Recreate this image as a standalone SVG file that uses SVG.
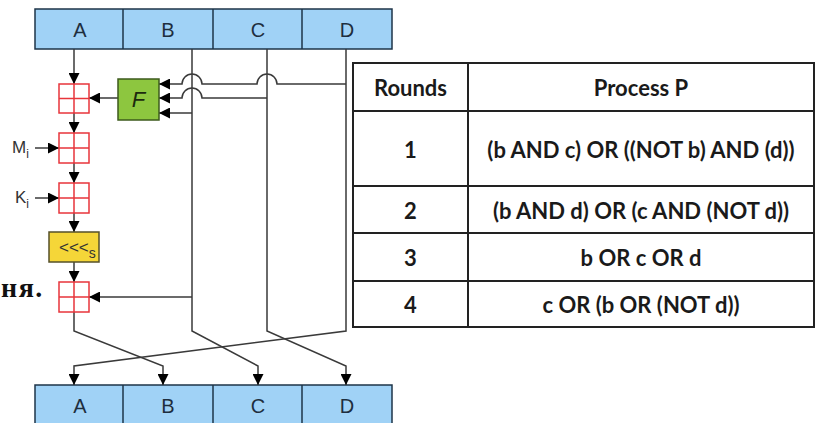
<svg xmlns="http://www.w3.org/2000/svg" width="821" height="423" viewBox="0 0 821 423">
<style>
.bar{fill:#a0d2f6;stroke:#1e3448;stroke-width:1.5}
.lbl{font-family:"Liberation Sans",Arial,sans-serif;font-size:20px;fill:#1e2e3e;text-anchor:middle}
.add{fill:#fff;stroke:#e8353b;stroke-width:1.5}
.ar{fill:none;stroke:#3a3a3a;stroke-width:1.5;marker-end:url(#ah)}
.tb{fill:none;stroke:#222;stroke-width:2}
.tt{font-family:Lato,"Open Sans",sans-serif;font-weight:bold;font-size:22px;fill:#1a1a1a;text-anchor:middle;dominant-baseline:central}
.sm{font-family:"Liberation Sans",Arial,sans-serif;fill:#333}
</style>
<defs>
<marker id="ah" viewBox="0 0 10 10" refX="10" refY="5" markerWidth="11" markerHeight="11" markerUnits="userSpaceOnUse" orient="auto">
<path d="M0,0 L10,5 L0,10 z" fill="#000"/>
</marker>
</defs>
<rect width="821" height="423" fill="#fff"/>

<g id="top-bar">
<rect class="bar" x="35" y="9" width="357" height="40"/>
<line class="bar" x1="123" y1="9" x2="123" y2="49"/>
<line class="bar" x1="213" y1="9" x2="213" y2="49"/>
<line class="bar" x1="302" y1="9" x2="302" y2="49"/>
<text class="lbl" x="80" y="37">A</text>
<text class="lbl" x="168" y="37">B</text>
<text class="lbl" x="258" y="37">C</text>
<text class="lbl" x="347" y="37">D</text>
</g>

<g id="bottom-bar">
<rect class="bar" x="35" y="385" width="357" height="50"/>
<line class="bar" x1="123" y1="385" x2="123" y2="423"/>
<line class="bar" x1="213" y1="385" x2="213" y2="423"/>
<line class="bar" x1="302" y1="385" x2="302" y2="423"/>
<text class="lbl" x="80" y="413">A</text>
<text class="lbl" x="168" y="413">B</text>
<text class="lbl" x="258" y="413">C</text>
<text class="lbl" x="347" y="413">D</text>
</g>

<g id="connectors">
<path class="ar" d="M74,49 V84"/>
<path class="ar" d="M118,98 H89"/>
<path class="ar" d="M74,113 V133"/>
<path class="ar" d="M35,148 H59"/>
<path class="ar" d="M74,163 V183"/>
<path class="ar" d="M35,198 H59"/>
<path class="ar" d="M74,213 V232"/>
<path class="ar" d="M74,262 V282"/>
<path class="ar" d="M346,84 H277 A10,10 0 0 0 257,84 H202 A10,10 0 0 0 182,84 H159"/>
<path class="ar" d="M267,98 H202 A10,10 0 0 0 182,98 H159"/>
<path class="ar" d="M192,113 H159"/>
<path class="ar" d="M192,297 H89"/>
<path class="ar" d="M192,49 V331 L258,366 V385"/>
<path class="ar" d="M267,49 V331 L346,366 V385"/>
<path class="ar" d="M346,49 V331 L74,366 V385"/>
<path class="ar" d="M74,312 V331 L163,366 V385"/>
</g>

<g id="add1">
<rect class="add" x="59" y="84" width="30" height="29"/>
<path class="add" d="M74,84 V113 M59,98.5 H89"/>
</g>
<g id="add2">
<rect class="add" x="59" y="133" width="30" height="30"/>
<path class="add" d="M74,133 V163 M59,148 H89"/>
</g>
<g id="add3">
<rect class="add" x="59" y="183" width="30" height="30"/>
<path class="add" d="M74,183 V213 M59,198 H89"/>
</g>
<g id="add4">
<rect class="add" x="59" y="282" width="30" height="30"/>
<path class="add" d="M74,282 V312 M59,297 H89"/>
</g>

<g id="F">
<rect x="118" y="79" width="41" height="41" fill="#8dc63f" stroke="#3d5a1c" stroke-width="1.5"/>
<text x="138.5" y="107" font-family="Liberation Sans,Arial,sans-serif" font-style="italic" font-size="22" fill="#1c2a0e" text-anchor="middle">F</text>
</g>

<g id="rotate">
<rect x="49" y="232" width="50" height="30" fill="#f5d638" stroke="#55502a" stroke-width="1.5"/>
<text x="59" y="253" class="sm" font-size="17">&lt;&lt;&lt;<tspan font-size="14" dy="5">s</tspan></text>
</g>

<g id="Mi">
<text x="12" y="153" class="sm" font-size="17">M<tspan font-size="12" dy="5">i</tspan></text>
</g>
<g id="Ki">
<text x="15" y="203" class="sm" font-size="17">K<tspan font-size="12" dy="5">i</tspan></text>
</g>

<text x="1" y="297" font-family="Liberation Serif,serif" font-weight="bold" font-size="28" letter-spacing="1.5" fill="#111">ня.</text>

<g id="table">
<rect class="tb" x="353" y="63" width="461" height="264"/>
<line class="tb" x1="468" y1="63" x2="468" y2="327"/>
<line class="tb" x1="353" y1="111" x2="814" y2="111"/>
<line class="tb" x1="353" y1="186" x2="814" y2="186"/>
<line class="tb" x1="353" y1="233" x2="814" y2="233"/>
<line class="tb" x1="353" y1="281" x2="814" y2="281"/>
<text class="tt" x="410.5" y="87">Rounds</text>
<text class="tt" x="641" y="87">Process P</text>
<text class="tt" x="410.5" y="149">1</text>
<text class="tt" x="641" y="149">(b AND c) OR ((NOT b) AND (d))</text>
<text class="tt" x="410.5" y="210">2</text>
<text class="tt" x="641" y="210">(b AND d) OR (c AND (NOT d))</text>
<text class="tt" x="410.5" y="257">3</text>
<text class="tt" x="641" y="257">b OR c OR d</text>
<text class="tt" x="410.5" y="304">4</text>
<text class="tt" x="641" y="304">c OR (b OR (NOT d))</text>
</g>
</svg>
